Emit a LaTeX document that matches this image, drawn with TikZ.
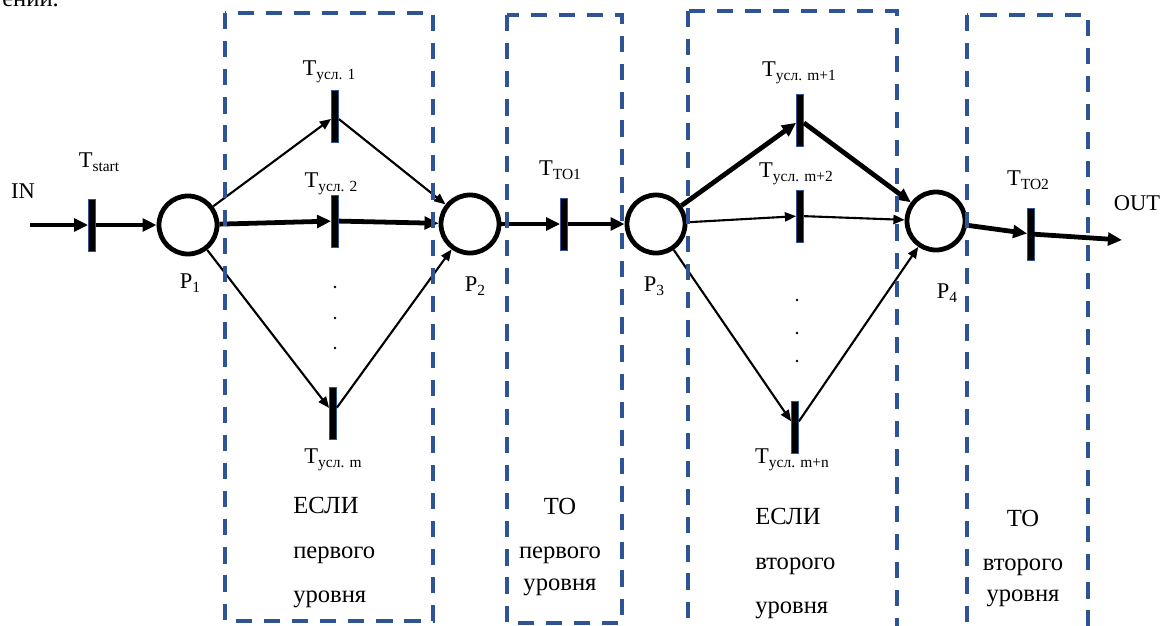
\documentclass[tikz,border=0pt]{standalone}
\usepackage{fontspec}
\setmainfont{Liberation Serif}
\usetikzlibrary{arrows.meta}
\definecolor{zoneblue}{RGB}{47,84,150}
\newcommand{\tsub}[1]{\raisebox{-0.45ex}{\fontsize{11}{12}\selectfont #1}}

\begin{document}
\begin{tikzpicture}[x=0.025cm, y=-0.025cm,
  every node/.style={font=\fontsize{16}{19}\selectfont},
  place/.style={circle, draw, line width=3.4pt, minimum size=1.45cm, inner sep=0pt},
  trans/.style={rectangle, fill=black, draw=zoneblue, line width=0.4pt,
    minimum width=0.18cm, minimum height=1.3cm, inner sep=0pt},
  lab/.style={anchor=base, inner sep=0pt},
  arcthin/.style={-{Triangle[length=8pt,width=6.5pt]}, line width=1.5pt},
  arcthick/.style={-{Triangle[length=10pt,width=9pt]}, line width=3.4pt},
  zone/.style={draw=zoneblue, line width=2.8pt, dash pattern=on 11.5pt off 8.5pt},
  zonetext/.style={font=\fontsize{17.5}{21}\selectfont, anchor=base, inner sep=0pt},
]
\useasboundingbox (0,0) rectangle (1168,625);
\clip (0,0) rectangle (1168,625);
\node[zonetext, anchor=base west] (cut) at (2,6) {ении.};

% places
\node[place] (p1) at (188,225) {};
\node[place] (p2) at (470,224) {};
\node[place] (p3) at (656,224) {};
\node[place] (p4) at (936,221) {};
\node[lab] (lp1) at (190,288) {P\tsub{1}};
\node[lab] (lp2) at (475,291) {P\tsub{2}};
\node[lab] (lp3) at (654,291) {P\tsub{3}};
\node[lab] (lp4) at (947,298) {P\tsub{4}};

% transitions
\node[trans] (tstart) at (92,225) {};
\node[trans] (tu1)  at (335,116) {};
\node[trans] (tu2)  at (335,221) {};
\node[trans] (tum)  at (333,413) {};
\node[trans] (tto1) at (564,224) {};
\node[trans] (tum1) at (800,120) {};
\node[trans] (tum2) at (800,216) {};
\node[trans] (tumn) at (795,427) {};
\node[trans] (tto2) at (1031,234) {};
\node[lab] (ltstart) at (99,167) {T\tsub{start}};
\node[lab] (ltu1)  at (329,75)  {T\tsub{усл. 1}};
\node[lab] (ltu2)  at (331,187) {T\tsub{усл. 2}};
\node[lab] (ltum)  at (333,463) {T\tsub{усл. m}};
\node[lab] (ltto1) at (560,175) {T\tsub{ТО1}};
\node[lab] (ltum1) at (799,76)  {T\tsub{усл. m+1}};
\node[lab] (ltum2) at (796,177) {T\tsub{усл. m+2}};
\node[lab] (ltumn) at (792,463) {T\tsub{усл. m+n}};
\node[lab] (ltto2) at (1028,185) {T\tsub{ТО2}};
\node[lab] (lin)  at (23,198)  {IN};
\node[lab] (lout) at (1137,210) {OUT};
\coordinate (in) at (30,225);
\coordinate (outend) at (1122,240);

\foreach \y in {287,318,348} \fill (335,\y) circle (1.3);
\foreach \y in {300,333,361} \fill (797,\y) circle (1.3);

% arcs
\draw[arcthick] (in) -- (tstart);
\draw[arcthick] (tstart) -- (p1);
\draw[arcthin] (p1) -- (tu1);
\draw[arcthin] (tu1) -- (p2);
\draw[arcthick] (p1) -- (tu2);
\draw[arcthick] (tu2) -- (p2);
\draw[arcthin] (p1) -- (tum);
\draw[arcthin] (tum) -- (p2);
\draw[arcthick] (p2) -- (tto1);
\draw[arcthick] (tto1) -- (p3);
\draw[arcthick] (p3) -- (tum1);
\draw[arcthick] (tum1) -- (p4);
\draw[arcthin] (p3) -- (tum2);
\draw[arcthin] (tum2) -- (p4);
\draw[arcthin] (p3) -- (tumn);
\draw[arcthin] (tumn) -- (p4);
\draw[arcthick] (p4) -- (tto2);
\draw[arcthick] (tto2.center) -- (outend);

% zones
\draw[zone] (225,13) rectangle (433,621);
\draw[zone] (507,15) rectangle (622,623);
\draw[zone] (688,11) rectangle (897,640);
\draw[zone] (967,15) rectangle (1088,640);
\node[zonetext, anchor=base west] (if1a) at (293,513) {ЕСЛИ};
\node[zonetext, anchor=base west] (if1b) at (293,558) {первого};
\node[zonetext, anchor=base west] (if1c) at (293,602) {уровня};
\node[zonetext] (then1a) at (560,514) {ТО};
\node[zonetext] (then1b) at (560,558) {первого};
\node[zonetext] (then1c) at (560,590) {уровня};
\node[zonetext, anchor=base west] (if2a) at (755,524) {ЕСЛИ};
\node[zonetext, anchor=base west] (if2b) at (755,569) {второго};
\node[zonetext, anchor=base west] (if2c) at (755,613) {уровня};
\node[zonetext] (then2a) at (1023,526) {ТО};
\node[zonetext] (then2b) at (1023,570) {второго};
\node[zonetext] (then2c) at (1023,601) {уровня};
\end{tikzpicture}
\end{document}
